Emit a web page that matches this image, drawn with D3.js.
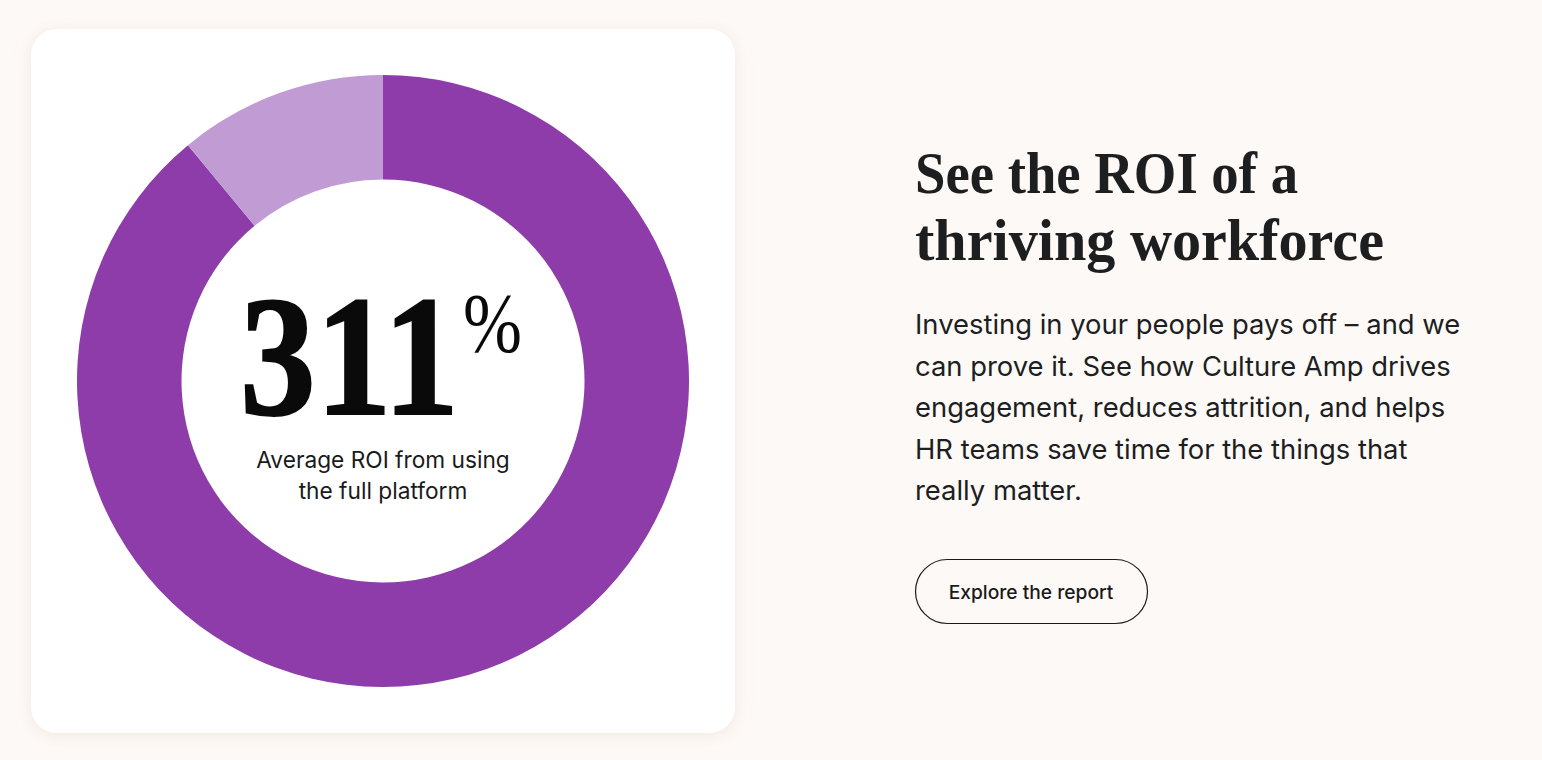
<!DOCTYPE html>
<html><head><meta charset="utf-8">
<script src="https://cdn.jsdelivr.net/npm/d3@7"></script>
<style>
html,body{margin:0;padding:0;background:#fdf9f6;overflow:hidden}
svg{display:block}
</style></head>
<body>
<svg id="c" width="1542" height="760"></svg>
<script>
// Data
const segments = ["Full platform ROI", "Remainder"];
const segmentValues = [89, 11];
const segmentColors = ["#8e3ca9", "#c09bd4"];
const bigNumber = "311";
const bigSuffix = "%";
const centerLabel = ["Average ROI from using", "the full platform"];
const headingLines = ["See the ROI of a", "thriving workforce"];
const bodyLines = ["Investing in your people pays off – and we", "can prove it. See how Culture Amp drives", "engagement, reduces attrition, and helps", "HR teams save time for the things that", "really matter."];
const buttonLabel = "Explore the report";

const svg = d3.select("#c");
const defs = svg.append("defs");
const f = defs.append("filter").attr("id","sh").attr("x","-10%").attr("y","-10%").attr("width","120%").attr("height","120%");
f.append("feDropShadow").attr("dx",0).attr("dy",2).attr("stdDeviation",8).attr("flood-color","#d9c9b8").attr("flood-opacity",0.35);

svg.append("rect").attr("width",1542).attr("height",760).attr("fill","#fdf9f6");
svg.append("rect").attr("x",31).attr("y",29).attr("width",704).attr("height",704).attr("rx",26).attr("fill","#ffffff").attr("filter","url(#sh)");

const cx = 383, cy = 381;
const pie = d3.pie().sort(null).value(d => d)(segmentValues);
const arc = d3.arc().innerRadius(201.5).outerRadius(306);
const g = svg.append("g").attr("transform",`translate(${cx},${cy})`);
g.selectAll("path").data(pie).join("path").attr("d",arc).attr("fill",(d,i)=>segmentColors[i]);

// Big number with superscript %
const big = svg.append("text").attr("x",240).attr("y",414)
  .attr("font-family","Liberation Serif, DejaVu Serif, serif").attr("fill","#0a0a0a");
big.append("tspan").attr("font-weight","bold").attr("font-size",172)
  .attr("textLength",219).attr("lengthAdjust","spacingAndGlyphs")
  .attr("stroke","#0a0a0a").attr("stroke-width",2)
  .text(bigNumber);
big.append("tspan").attr("x",463).attr("y",352).attr("font-size",84)
  .attr("textLength",59).attr("lengthAdjust","spacingAndGlyphs")
  .text(bigSuffix);

svg.append("g").selectAll("text").data(centerLabel).join("text")
  .attr("x",cx).attr("y",(d,i)=>468+i*31).attr("text-anchor","middle")
  .attr("font-family","Inter, sans-serif").attr("font-size",22.7).attr("fill","#1a1a1a")
  .text(d=>d);

// Heading
svg.append("g").selectAll("text").data(headingLines).join("text")
  .attr("x",915).attr("y",(d,i)=>193+i*67)
  .attr("font-family","Liberation Serif, DejaVu Serif, serif").attr("font-weight","bold")
  .attr("font-size",60).attr("fill","#1c1e1f")
  .attr("textLength",(d,i)=>[383,469][i]).attr("lengthAdjust","spacingAndGlyphs")
  .text(d=>d);

// Body
svg.append("g").selectAll("text").data(bodyLines).join("text")
  .attr("x",915).attr("y",(d,i)=>334+i*41.5)
  .attr("font-family","Inter, sans-serif").attr("font-size",27.4).attr("fill","#1c1e22")
  .text(d=>d);

// Button
svg.append("rect").attr("x",915.5).attr("y",559.5).attr("width",232).attr("height",64).attr("rx",32)
  .attr("fill","none").attr("stroke","#1a1a1a").attr("stroke-width",1.2);
svg.append("text").attr("x",1031).attr("y",599).attr("text-anchor","middle")
  .attr("font-family","Inter, sans-serif").attr("font-size",19.2).attr("font-weight",500).attr("fill","#1a1a1a")
  .text(buttonLabel);
</script>
</body></html>
